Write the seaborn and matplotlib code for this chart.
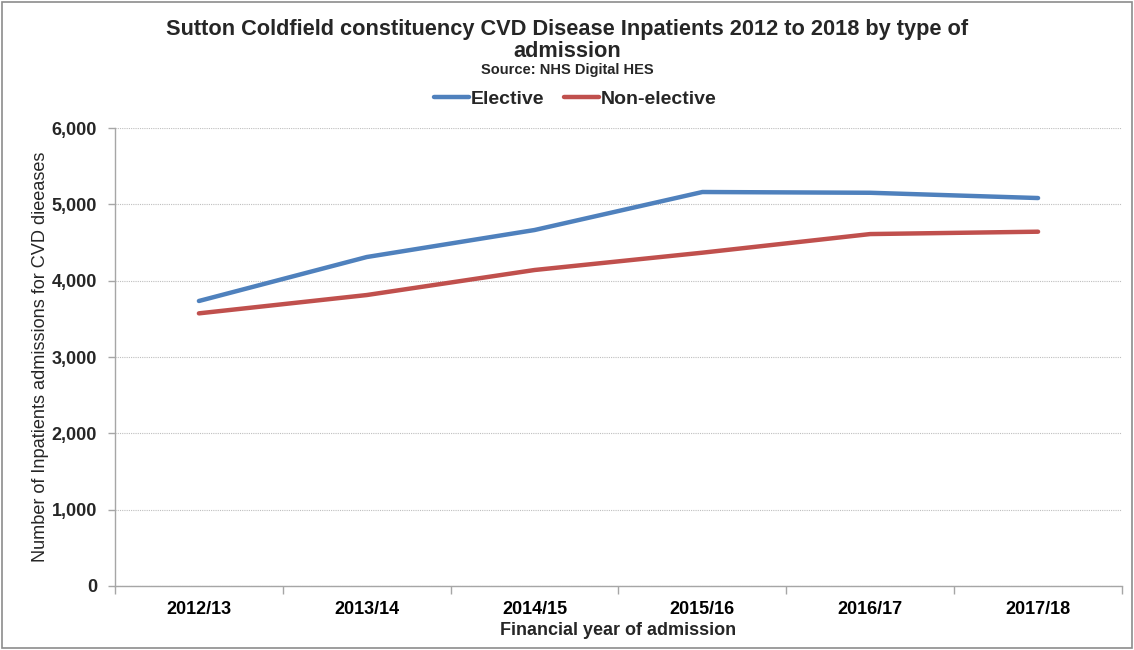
import numpy as np
import pandas as pd
import matplotlib
matplotlib.use('Agg')
import matplotlib.pyplot as plt
import seaborn as sns
from matplotlib.patches import Rectangle
from matplotlib.ticker import FuncFormatter, FixedLocator

years = ['2012/13', '2013/14', '2014/15', '2015/16', '2016/17', '2017/18']
elective = [3734, 4310, 4664, 5162, 5152, 5083]
non_elective = [3572, 3812, 4140, 4367, 4611, 4642]
series_names = ['Elective', 'Non-elective']
colors = ['#4F81BD', '#C0504D']

df = pd.DataFrame({
    'year': years * 2,
    'admissions': elective + non_elective,
    'type': [series_names[0]] * len(years) + [series_names[1]] * len(years),
})

sns.set_theme(style='white')
plt.rcParams['font.family'] = ['Liberation Sans', 'DejaVu Sans']

fig = plt.figure(figsize=(11.34, 6.5), dpi=100)
ax = fig.add_axes([0.1014, 0.0985, 0.888, 0.7045])

sns.lineplot(data=df, x='year', y='admissions', hue='type', palette=colors,
             linewidth=3.2, sort=False, ax=ax, legend=False)

ax.set_xlim(-0.5, len(years) - 0.5)
ax.set_ylim(0, 6000)
ax.set_yticks(np.arange(0, 6001, 1000))
ax.yaxis.set_major_formatter(FuncFormatter(lambda v, p: f'{int(v):,}'))
ax.grid(axis='y', color='#BFBFBF', linestyle=(0, (1, 1)), linewidth=0.8)
ax.grid(axis='x', visible=False)

for side in ['top', 'right']:
    ax.spines[side].set_visible(False)
for side in ['left', 'bottom']:
    ax.spines[side].set_color('#A6A6A6')
    ax.spines[side].set_linewidth(1.0)

ax.xaxis.set_minor_locator(FixedLocator(np.arange(-0.5, len(years), 1.0)))
ax.tick_params(axis='x', which='major', length=0, pad=11, labelsize=13, labelcolor='black')
ax.tick_params(axis='x', which='minor', length=6, color='#A6A6A6', width=1.0, direction='out', bottom=True)
ax.tick_params(axis='y', which='major', length=5, color='#A6A6A6', width=1.0, direction='out', left=True,
               labelsize=13, pad=8)
for lbl in ax.get_xticklabels() + ax.get_yticklabels():
    lbl.set_fontweight('bold')

ax.set_xlabel('Financial year of admission', fontsize=13, fontweight='bold', labelpad=3)
ax.set_ylabel('Number of Inpatients admissions for CVD dieeases', fontsize=13.1, labelpad=2)

fig.text(0.5, 0.955, 'Sutton Coldfield constituency CVD Disease Inpatients 2012 to 2018 by type of',
         ha='center', va='center', fontsize=15.7, fontweight='bold')
fig.text(0.5, 0.921, 'admission', ha='center', va='center', fontsize=15.7, fontweight='bold')
fig.text(0.5, 0.893, 'Source: NHS Digital HES', ha='center', va='center', fontsize=10.5, fontweight='bold')

handles = [plt.Line2D([], [], color=c, linewidth=3.2) for c in colors]
leg = fig.legend(handles, series_names, loc='center', bbox_to_anchor=(0.507, 0.847), ncol=2,
                 frameon=False, handlelength=1.8, handletextpad=0.1, columnspacing=1.0,
                 prop={'size': 14, 'weight': 'bold'})

fig.patches.append(Rectangle((0.002, 0.003), 0.996, 0.994, transform=fig.transFigure,
                             fill=False, edgecolor='#8C8C8C', linewidth=1.2))

fig.savefig('out.png', dpi=100)
